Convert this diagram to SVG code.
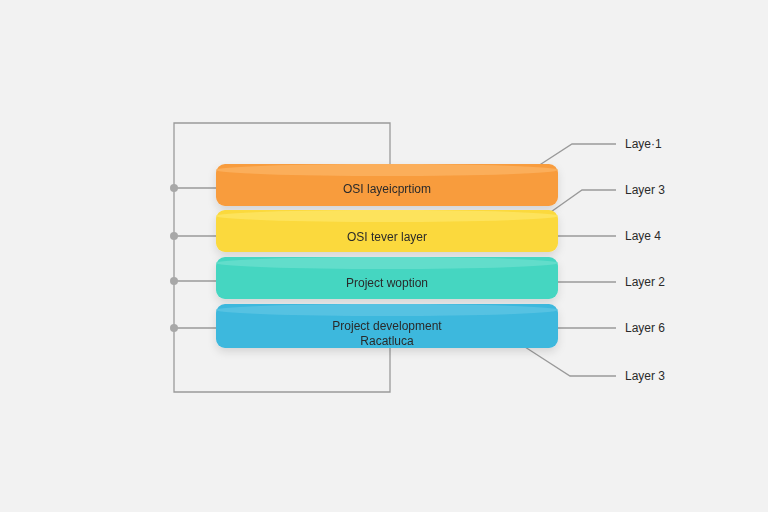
<svg xmlns="http://www.w3.org/2000/svg" width="768" height="512" viewBox="0 0 768 512">
<style>
.ln{fill:none;stroke:#9a9a9a;stroke-width:1.3}
.dot{fill:#a8a8a8}
.t{font-family:"Liberation Sans",Arial,sans-serif;font-size:12px;fill:#2a2a2a;text-anchor:middle}
.lb{font-family:"Liberation Sans",Arial,sans-serif;font-size:12px;fill:#2a2a2a}
</style>
<defs>
<filter id="sh" x="-10%" y="-30%" width="120%" height="180%"><feDropShadow dx="0" dy="4" stdDeviation="4" flood-color="#000" flood-opacity="0.12"/></filter>
</defs>
<rect width="768" height="512" fill="#f2f2f2"/>
<g id="connectors">
<path class="ln" d="M390,165 V123 H174 V392 H390 V347"/>
<path class="ln" d="M174,188 H216 M174,236 H216 M174,281 H216 M174,328 H216"/>
<circle class="dot" cx="174" cy="188" r="4"/><circle class="dot" cx="174" cy="236" r="4"/>
<circle class="dot" cx="174" cy="281" r="4"/><circle class="dot" cx="174" cy="328" r="4"/>
<path class="ln" d="M538,166 L572,144 H616"/>
<path class="ln" d="M548,214 L582,190 H616"/>
<path class="ln" d="M558,236 H616 M558,282 H616 M558,328 H616"/>
<path class="ln" d="M525,347 L570,376 H616"/>
</g>
<g id="layer-orange" filter="url(#sh)">
<rect x="216" y="164" width="342" height="42" rx="9" fill="#f89c3e"/>
<ellipse cx="387" cy="170" rx="171" ry="6" fill="#fbae5a"/>
<text class="t" x="387" y="193">OSI layeicprtiom</text>
</g>
<g id="layer-yellow" filter="url(#sh)">
<rect x="216" y="210" width="342" height="42" rx="9" fill="#fbd93c"/>
<ellipse cx="387" cy="216" rx="171" ry="6" fill="#fde35c"/>
<text class="t" x="387" y="241">OSI tever layer</text>
</g>
<g id="layer-teal" filter="url(#sh)">
<rect x="216" y="257" width="342" height="42" rx="9" fill="#45d6c1"/>
<ellipse cx="387" cy="263" rx="171" ry="6" fill="#62ddcb"/>
<text class="t" x="387" y="287">Project woption</text>
</g>
<g id="layer-blue" filter="url(#sh)">
<rect x="216" y="304" width="342" height="44" rx="9" fill="#3db8dd"/>
<ellipse cx="387" cy="310" rx="171" ry="6" fill="#56c2e2"/>
<text class="t" x="387" y="330">Project development</text>
<text class="t" x="387" y="345">Racatluca</text>
</g>
<g id="labels">
<text class="lb" x="625" y="148">Laye·1</text>
<text class="lb" x="625" y="194">Layer 3</text>
<text class="lb" x="625" y="240">Laye 4</text>
<text class="lb" x="625" y="286">Layer 2</text>
<text class="lb" x="625" y="332">Layer 6</text>
<text class="lb" x="625" y="380">Layer 3</text>
</g>
</svg>
